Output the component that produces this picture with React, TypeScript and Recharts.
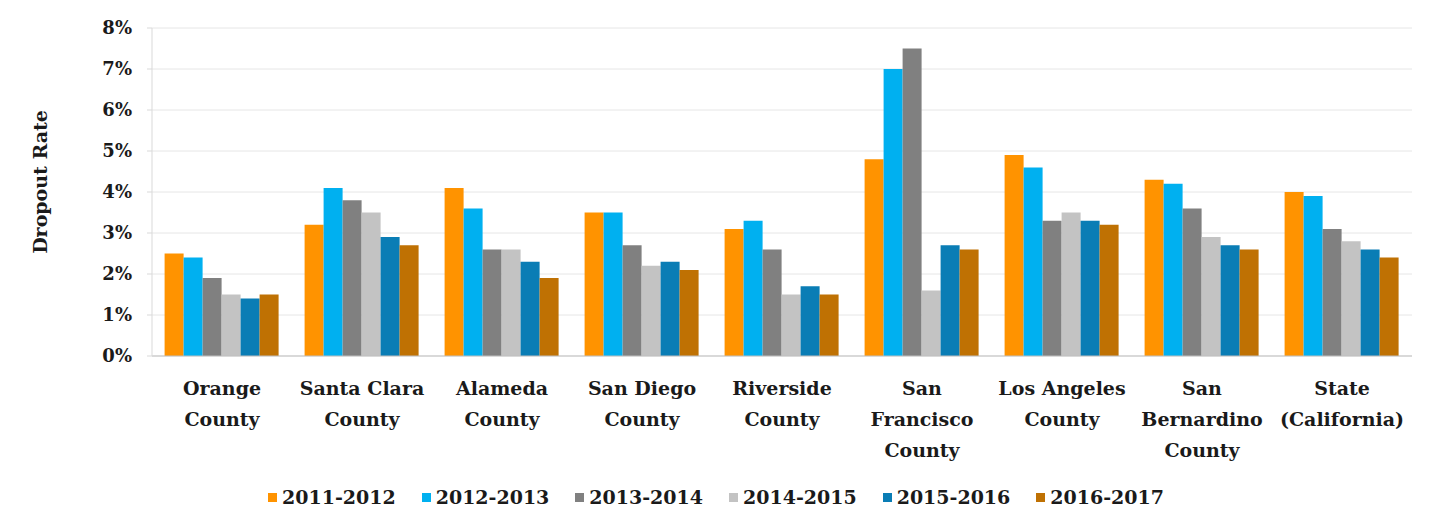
import React from "react";
import { Bar, BarChart, CartesianGrid, Legend, XAxis, YAxis } from "recharts";

const counties = [
  "Orange\nCounty",
  "Santa Clara\nCounty",
  "Alameda\nCounty",
  "San Diego\nCounty",
  "Riverside\nCounty",
  "San\nFrancisco\nCounty",
  "Los Angeles\nCounty",
  "San\nBernardino\nCounty",
  "State\n(California)",
];

const years = ["2011-2012", "2012-2013", "2013-2014", "2014-2015", "2015-2016", "2016-2017"];
const colors = ["#FF9300", "#00B0F0", "#808080", "#C3C3C3", "#0A7DB5", "#BF7103"];

const y2011 = [2.5, 3.2, 4.1, 3.5, 3.1, 4.8, 4.9, 4.3, 4.0];
const y2012 = [2.4, 4.1, 3.6, 3.5, 3.3, 7.0, 4.6, 4.2, 3.9];
const y2013 = [1.9, 3.8, 2.6, 2.7, 2.6, 7.5, 3.3, 3.6, 3.1];
const y2014 = [1.5, 3.5, 2.6, 2.2, 1.5, 1.6, 3.5, 2.9, 2.8];
const y2015 = [1.4, 2.9, 2.3, 2.3, 1.7, 2.7, 3.3, 2.7, 2.6];
const y2016 = [1.5, 2.7, 1.9, 2.1, 1.5, 2.6, 3.2, 2.6, 2.4];

const yTicks = [0, 1, 2, 3, 4, 5, 6, 7, 8];
const edgeTicks = [0, 1, 2, 3, 4, 5, 6, 7, 8, 9];

const series = [y2011, y2012, y2013, y2014, y2015, y2016];
const data = counties.map((name, i) => {
  const row: Record<string, string | number> = { name };
  years.forEach((yr, s) => {
    row[yr] = series[s][i];
  });
  return row;
});

const font = "'DejaVu Serif', serif";

const CountyTick = (props: any) => {
  const { x, y, payload } = props;
  const lines = String(payload.value).split("\n");
  return (
    <text x={x} y={y} textAnchor="middle" fill="#1a1a1a" fontFamily={font} fontWeight="bold" fontSize={19}>
      {lines.map((l, i) => (
        <tspan key={i} x={x} dy={i === 0 ? 30 : 31}>
          {l}
        </tspan>
      ))}
    </text>
  );
};

const YLabel = (props: any) => {
  const { viewBox } = props;
  const cx = viewBox.x + 40;
  const cy = viewBox.y + viewBox.height / 2 - 10;
  return (
    <text
      x={cx}
      y={cy}
      transform={`rotate(-90, ${cx}, ${cy})`}
      textAnchor="middle"
      dominantBaseline="central"
      fill="#1a1a1a"
      fontFamily={font}
      fontWeight="bold"
      fontSize={19}
    >
      Dropout Rate
    </text>
  );
};

const LegendRow = () => (
  <div style={{ display: "flex", justifyContent: "center", height: 24, alignItems: "center", paddingLeft: 20 }}>
    {years.map((yr, i) => (
      <div key={yr} style={{ display: "flex", alignItems: "center", marginRight: i < years.length - 1 ? 26 : 0 }}>
        <span style={{ width: 9, height: 9, background: colors[i], marginRight: 5, display: "inline-block" }} />
        <span style={{ fontFamily: font, fontWeight: "bold", fontSize: 19, color: "#1a1a1a" }}>{yr}</span>
      </div>
    ))}
  </div>
);

export default function App() {
  return (
    <div style={{ position: "absolute", left: 0, top: 0, background: "#fff" }}>
      <BarChart
        width={1440}
        height={517}
        data={data}
        margin={{ top: 28, right: 28, bottom: 8, left: 0 }}
        barGap={0}
        barCategoryGap="9%"
      >
        <CartesianGrid vertical={false} stroke="#E6E6E6" />
        <XAxis
          type="number"
          domain={[0, 9]}
          ticks={edgeTicks}
          tick={false}
          height={1}
          tickSize={6}
          stroke="#BFBFBF"
        />
        <XAxis
          xAxisId={1}
          dataKey="name"
          interval={0}
          height={128}
          axisLine={false}
          tickLine={false}
          tick={<CountyTick />}
        />
        <YAxis
          width={152}
          domain={[0, 8]}
          ticks={yTicks}
          tickFormatter={(v) => `${v}%`}
          stroke="#D9D9D9"
          tickSize={5}
          tickMargin={15}
          tick={{ fill: "#1a1a1a", fontFamily: font, fontWeight: "bold", fontSize: 18 }}
          label={<YLabel />}
        />
        <Legend verticalAlign="bottom" content={<LegendRow />} />
        {years.map((yr, i) => (
          <Bar key={yr} xAxisId={1} dataKey={yr} fill={colors[i]} isAnimationActive={false} />
        ))}
      </BarChart>
    </div>
  );
}
